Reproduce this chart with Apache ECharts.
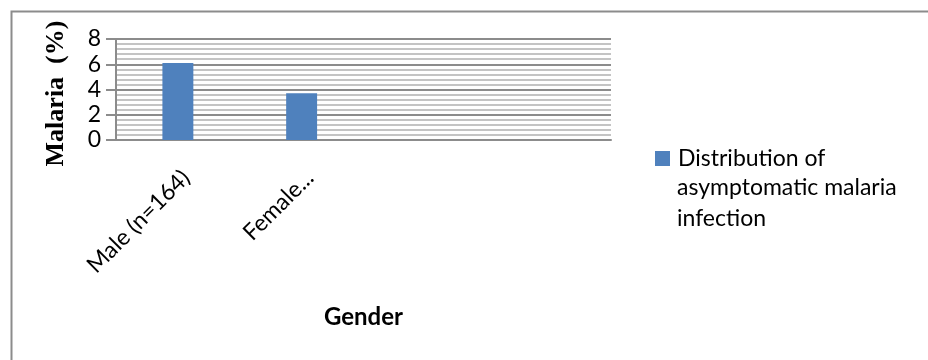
<!DOCTYPE html>
<html>
<head>
<meta charset="utf-8">
<script src="https://cdn.jsdelivr.net/npm/echarts@6/dist/echarts.min.js"></script>
<style>
  html, body { margin: 0; padding: 0; background: #fff; }
  #chart { width: 928px; height: 360px; }
</style>
</head>
<body>
<div id="chart"></div>
<script>
// categories (last two slots are empty in the original)
var categories = ['Male (n=164)', 'Female...', '', ''];
var malariaPct = [6.1, 3.7, null, null];
var seriesName = 'Distribution of asymptomatic malaria infection';
var legendLines = ['Distribution of', 'asymptomatic malaria', 'infection'];
var yTicks = [0, 2, 4, 6, 8];

var chart = echarts.init(document.getElementById('chart'), null, { renderer: 'canvas' });

var labelFont = 'Lato';

var option = {
  backgroundColor: '#ffffff',
  animation: false,
  textStyle: { fontFamily: labelFont },
  graphic: [
    {
      type: 'rect',
      left: 9, top: 9,
      shape: { width: 940, height: 370 },
      style: { fill: 'none', stroke: '#8c8c8c', lineWidth: 2 }
    },
    // wrapped legend lines, the way the original breaks the series name
    {
      type: 'text',
      x: 677, y: 188,
      style: { text: legendLines[1], font: '23px Lato', fill: '#000', textVerticalAlign: 'middle' }
    },
    {
      type: 'text',
      x: 677, y: 219,
      style: { text: legendLines[2], font: '23px Lato', fill: '#000', textVerticalAlign: 'middle' }
    }
  ],
  grid: { left: 116, right: 317, top: 39, bottom: 220 },
  legend: {
    left: 650,
    top: 142,
    orient: 'vertical',
    itemWidth: 15,
    itemHeight: 15,
    icon: 'rect',
    formatter: function () { return legendLines[0]; },
    textStyle: { fontFamily: labelFont, fontSize: 23, color: '#000', padding: [0, 0, 0, 3] },
    data: [seriesName]
  },
  xAxis: {
    type: 'category',
    data: categories,
    name: 'Gender',
    nameLocation: 'middle',
    nameGap: 165,
    nameTextStyle: { fontFamily: labelFont, fontWeight: 'bold', fontSize: 24, color: '#000' },
    axisLine: { lineStyle: { color: '#8c8c8c', width: 2 } },
    axisTick: { show: false },
    axisLabel: { rotate: 45, fontSize: 23, color: '#000', margin: 26, interval: 0, verticalAlign: 'top' }
  },
  yAxis: {
    type: 'value',
    min: yTicks[0],
    max: yTicks[yTicks.length - 1],
    interval: 2,
    name: 'Malaria  (%)',
    nameLocation: 'middle',
    nameGap: 47,
    nameTextStyle: { fontFamily: 'Liberation Serif', fontWeight: 'bold', fontSize: 26, color: '#000', padding: [0, 8, 0, 0] },
    axisLine: { show: true, lineStyle: { color: '#8c8c8c', width: 2 } },
    axisTick: { show: true, length: 10, lineStyle: { color: '#8c8c8c', width: 2 } },
    axisLabel: { fontSize: 23, color: '#000', margin: 15 },
    splitLine: { lineStyle: { color: '#8c8c8c', width: 2 } },
    minorTick: { show: false, splitNumber: 5 },
    minorSplitLine: { show: true, lineStyle: { color: '#c4c4c4', width: 2 } }
  },
  series: [
    {
      name: seriesName,
      type: 'bar',
      data: malariaPct,
      barWidth: '25%',
      itemStyle: { color: '#4f81bd' }
    }
  ]
};

chart.setOption(option);
</script>
</body>
</html>
